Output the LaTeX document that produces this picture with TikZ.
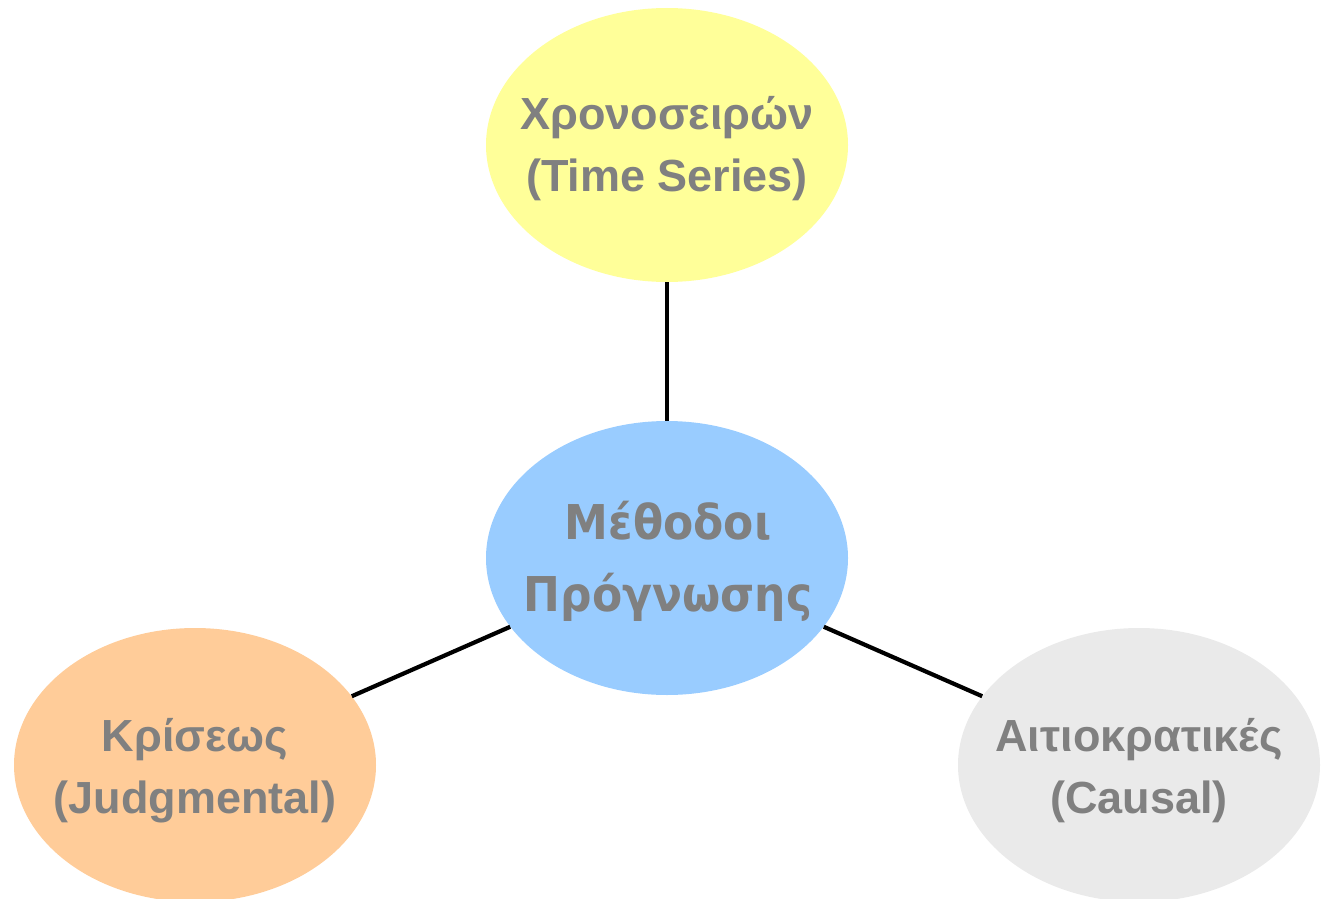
\documentclass[tikz,border=0pt]{standalone}
\usepackage{fontspec}
\setmainfont{Liberation Sans}
\newfontfamily\centerfont{DejaVu Sans}
\usetikzlibrary{shapes.geometric}
\definecolor{cyellow}{HTML}{FFFF99}
\definecolor{cblue}{HTML}{99CCFF}
\definecolor{corange}{HTML}{FFCC99}
\definecolor{cgrey}{HTML}{EAEAEA}
\definecolor{ctext}{HTML}{808080}
\tikzset{
  blob/.style={ellipse, draw=none, minimum width=362pt, minimum height=274pt, inner sep=0pt},
  lbl/.style={text=ctext, align=center, font=\fontsize{45}{62}\selectfont\bfseries},
  clbl/.style={text=ctext, align=center, yscale=1.09, transform shape, font=\centerfont\fontsize{44}{66}\selectfont\bfseries},
  link/.style={line width=4.2pt, black}
}
\begin{document}
\begin{tikzpicture}[x=1pt,y=-1pt]
\useasboundingbox (0,0) rectangle (1323,899);
\clip (0,0) rectangle (1323,899);
\node[blob, fill=cyellow] (ts) at (667,145) {};
\node[blob, fill=cblue] (c) at (667,558) {};
\node[blob, fill=corange] (j) at (195,765) {};
\node[blob, fill=cgrey] (ca) at (1139,765) {};
\draw[link] (ts) -- (c);
\draw[link] (c) -- (j);
\draw[link] (c) -- (ca);
\node[lbl] (tst) at (667,149) {Χρονοσειρών\\(Time Series)};
\node[clbl] (ct) at (668,561.5) {Μέθοδοι\\Πρόγνωσης};
\node[lbl] (jt) at (195,771) {Κρίσεως\\(Judgmental)};
\node[lbl] (cat) at (1139,771) {Αιτιοκρατικές\\(Causal)};
\end{tikzpicture}
\end{document}
